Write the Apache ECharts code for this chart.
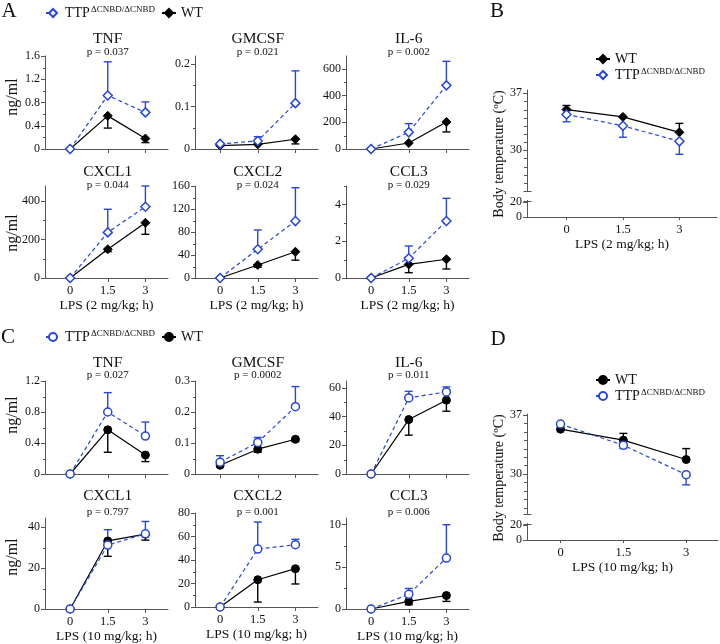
<!DOCTYPE html>
<html><head><meta charset="utf-8">
<script src="https://cdn.jsdelivr.net/npm/echarts@6/dist/echarts.min.js"></script>
<style>html,body{margin:0;padding:0;background:#fff}#c{width:720px;height:644px}</style>
</head><body><div id="c"></div>
<script>
// ---------------- data ----------------
const hours = [0, 1.5, 3];
const hourLabels = ['0', '1.5', '3'];
const cytokineNames = ['TNF', 'GMCSF', 'IL-6', 'CXCL1', 'CXCL2', 'CCL3'];
const pValuesA = ['p = 0.037', 'p = 0.021', 'p = 0.002', 'p = 0.044', 'p = 0.024', 'p = 0.029'];
const pValuesC = ['p = 0.027', 'p = 0.0002', 'p = 0.011', 'p = 0.797', 'p = 0.001', 'p = 0.006'];
const xNameA = 'LPS (2 mg/kg; h)';
const xNameC = 'LPS (10 mg/kg; h)';
const yNameCyto = 'ng/ml';
const panelLetters = ['A', 'B', 'C', 'D'];

// Panel A (2 mg/kg) — value and end of error bar
const aTNF_ttp = [0, 0.92, 0.63],     aTNF_ttpBar = [null, 1.50, 0.81];
const aTNF_wt = [0, 0.57, 0.18],      aTNF_wtBar = [null, 0.36, 0.11];
const aGMCSF_ttp = [0.012, 0.019, 0.108], aGMCSF_ttpBar = [null, 0.029, 0.184];
const aGMCSF_wt = [0.008, 0.011, 0.023],  aGMCSF_wtBar = [null, null, 0.012];
const aIL6_ttp = [0, 125, 477],       aIL6_ttpBar = [null, 190, 657];
const aIL6_wt = [0, 45, 203],         aIL6_wtBar = [null, null, 128];
const aCXCL1_ttp = [0, 237, 370],     aCXCL1_ttpBar = [null, 357, 478];
const aCXCL1_wt = [0, 149, 287],      aCXCL1_wtBar = [null, 137, 227];
const aCXCL2_ttp = [0, 50, 99],       aCXCL2_ttpBar = [null, 83.5, 157];
const aCXCL2_wt = [0, 22.6, 45.7],    aCXCL2_wtBar = [null, 18.6, 31];
const aCCL3_ttp = [0, 1.07, 3.1],     aCCL3_ttpBar = [null, 1.74, 4.33];
const aCCL3_wt = [0, 0.74, 1.02],     aCCL3_wtBar = [null, 0.29, 0.49];
const aYMajor = [[0, 0.4, 0.8, 1.2, 1.6], [0, 0.1, 0.2], [0, 200, 400, 600], [0, 200, 400], [0, 40, 80, 120, 160], [0, 2, 4]];
const aYMinor = [[0.2, 0.6, 1.0, 1.4], [0.05, 0.15], [100, 300, 500], [100, 300], [20, 60, 100, 140], [1, 3, 5]];
const aYMax = [1.6, 0.219, 697, 478, 160, 5];

// Panel B (body temperature, 2 mg/kg)
const bWT = [35.0, 34.1, 32.2],  bWTBar = [35.5, null, 33.3];
const bTTP = [34.4, 33.0, 31.1], bTTPBar = [33.5, 31.6, 29.5];

// Panel C (10 mg/kg)
const cTNF_ttp = [0, 0.80, 0.49],     cTNF_ttpBar = [null, 1.05, 0.67];
const cTNF_wt = [0, 0.57, 0.245],     cTNF_wtBar = [null, 0.28, 0.16];
const cGMCSF_ttp = [0.038, 0.102, 0.217], cGMCSF_ttpBar = [0.059, 0.118, 0.282];
const cGMCSF_wt = [0.028, 0.080, 0.112],  cGMCSF_wtBar = [null, 0.070, 0.105];
const cIL6_ttp = [0, 53.1, 57.3],     cIL6_ttpBar = [null, 57.7, 60.8];
const cIL6_wt = [0, 38.0, 51.5],      cIL6_wtBar = [null, 27.1, 43.8];
const cCXCL1_ttp = [0, 31.2, 36.7],   cCXCL1_ttpBar = [null, 38.7, 42.7];
const cCXCL1_wt = [0, 33.2, 36.5],    cCXCL1_wtBar = [null, 25.7, 33.6];
const cCXCL2_ttp = [0, 49.3, 53.0],   cCXCL2_ttpBar = [null, 72.3, 57.6];
const cCXCL2_wt = [0, 23.2, 32.6],    cCXCL2_wtBar = [null, 4.2, 19.6];
const cCCL3_ttp = [0, 1.74, 6.05],    cCCL3_ttpBar = [null, 2.44, 10.0];
const cCCL3_wt = [0, 0.9, 1.6],       cCCL3_wtBar = [null, 0.5, 0.9];
const cYMajor = [[0, 0.4, 0.8, 1.2], [0, 0.1, 0.2, 0.3], [0, 20, 40, 60], [0, 20, 40], [0, 20, 40, 60, 80], [0, 5, 10]];
const cYMinor = [[0.2, 0.6, 1.0], [0.05, 0.15, 0.25], [10, 30, 50], [10, 30], [10, 30, 50, 70], [2.5, 7.5]];
const cYMax = [1.2, 0.3, 64.9, 44.4, 80, 10.8];

// Panel D (body temperature, 10 mg/kg)
const dWT = [35.3, 34.0, 31.7],  dWTBar = [null, 34.8, 33.0];
const dTTP = [35.9, 33.4, 29.9], dTTPBar = [null, 33.0, 28.7];

const tempUpperLabels = [30, 37];
const tempUpperMinor = [26, 27, 28, 29, 31, 32, 33, 34, 35, 36];
const tempLowerLabels = [0, 20];
const tempName = 'Body temperature';

// ---------------- styling / layout ----------------
const BLUE = '#2747d8';
const AXIS = '#555';
const TXT = '#111';
const FONT = 'Liberation Serif';

const grids = [], xAxes = [], yAxes = [], series = [], graphics = [];

function lineSeries(name, xi, yi, vals, isTTP, symbol) {
  return {
    type: 'line', name: name, xAxisIndex: xi, yAxisIndex: yi,
    data: hours.map((h, i) => [h, vals[i]]),
    symbol: symbol, symbolSize: symbol === 'diamond' ? 9 : 8,
    itemStyle: isTTP ? { color: '#fff', borderColor: BLUE, borderWidth: 1.5 } : { color: '#000', borderColor: '#000', borderWidth: 1 },
    lineStyle: isTTP ? { color: BLUE, width: 1.2, type: [4, 3] } : { color: '#000', width: 1.2 },
    z: isTTP ? 4 : 3, silent: true, animation: false, emphasis: { disabled: true }
  };
}
function barSeries(xi, yi, vals, ends, color) {
  const d = [];
  hours.forEach((h, i) => { if (ends[i] != null) d.push([h, vals[i], ends[i]]); });
  return {
    type: 'custom', xAxisIndex: xi, yAxisIndex: yi, data: d, z: 2, silent: true, animation: false,
    encode: { x: 0, y: [1, 2] },
    renderItem: (params, api) => {
      const p0 = api.coord([api.value(0), api.value(1)]);
      const p1 = api.coord([api.value(0), api.value(2)]);
      const w = 4;
      return { type: 'group', children: [
        { type: 'line', shape: { x1: p0[0], y1: p0[1], x2: p1[0], y2: p1[1] }, style: { stroke: color, lineWidth: 1.4 } },
        { type: 'line', shape: { x1: p1[0] - w, y1: p1[1], x2: p1[0] + w, y2: p1[1] }, style: { stroke: color, lineWidth: 1.4 } }
      ] };
    }
  };
}
// short y-axis ticks (minor ticks, broken-axis caps) placed with the y scale at the grid's left edge
function tickSeries(xi, yi, vals, lenOut, lenIn) {
  return {
    type: 'custom', xAxisIndex: xi, yAxisIndex: yi, data: vals.map(v => [0, v]), z: 1, silent: true, animation: false, clip: false,
    encode: { x: 0, y: 1 },
    renderItem: (params, api) => {
      const y = Math.round(api.coord([0, api.value(1)])[1]) + 0.5;
      const x = Math.round(params.coordSys.x) + 0.5;
      return { type: 'line', shape: { x1: x - lenOut, y1: y, x2: x + lenIn, y2: y }, style: { stroke: AXIS, lineWidth: 1 } };
    }
  };
}
function xAxisCfg(gi, min, max, showLabels, name, showLine) {
  return {
    gridIndex: gi, type: 'value', min: min, max: max, show: showLine !== false,
    axisLine: { show: true, onZero: false, lineStyle: { color: AXIS, width: 1 } },
    axisTick: { show: true, length: 4, customValues: hours, lineStyle: { color: AXIS } },
    axisLabel: { show: showLabels, customValues: hours, formatter: v => hourLabels[hours.indexOf(v)] ?? '', margin: 6, fontFamily: FONT, fontSize: 12.5, color: TXT },
    splitLine: { show: false },
    name: name || '', nameLocation: 'middle', nameGap: 20, nameTextStyle: { fontFamily: FONT, fontSize: 13.5, color: TXT }
  };
}
function yAxisCfg(gi, min, max, majors, tickVals, len) {
  return {
    gridIndex: gi, type: 'value', min: min, max: max, position: 'left',
    axisLine: { show: true, onZero: false, lineStyle: { color: AXIS, width: 1 } },
    axisTick: { show: true, length: len || 4, customValues: tickVals || majors, lineStyle: { color: AXIS } },
    axisLabel: { customValues: majors, margin: 5, fontFamily: FONT, fontSize: 12, color: TXT },
    splitLine: { show: false }
  };
}
function text(x, y, str, size, opts) {
  graphics.push(Object.assign({
    type: 'text', x: x, y: y, silent: true,
    style: { text: str, font: size + 'px "' + FONT + '"', fill: TXT, align: 'center', verticalAlign: 'middle' }
  }, opts || {}));
}

// small cytokine panels
const X_MIN = -1, X_MAX = 3.9, PW = 123;
const colLeft = [45, 195, 346];
function smallPanel(left, top, height, yMax, majors, minors, ttp, ttpBar, wt, wtBar, names, symbol, showX, xName) {
  const gi = grids.length;
  grids.push({ left: left, top: top, width: PW, height: height });
  const xi = xAxes.length; xAxes.push(xAxisCfg(gi, X_MIN, X_MAX, showX, showX ? xName : ''));
  const yi = yAxes.length; yAxes.push(yAxisCfg(gi, 0, yMax, majors));
  series.push(tickSeries(xi, yi, minors, 2.5, 0));
  series.push(barSeries(xi, yi, wt, wtBar, '#000'));
  series.push(barSeries(xi, yi, ttp, ttpBar, BLUE));
  series.push(lineSeries(names[1], xi, yi, wt, false, symbol));
  series.push(lineSeries(names[0], xi, yi, ttp, true, symbol));
}
const aTtp = [aTNF_ttp, aGMCSF_ttp, aIL6_ttp, aCXCL1_ttp, aCXCL2_ttp, aCCL3_ttp];
const aTtpBar = [aTNF_ttpBar, aGMCSF_ttpBar, aIL6_ttpBar, aCXCL1_ttpBar, aCXCL2_ttpBar, aCCL3_ttpBar];
const aWt = [aTNF_wt, aGMCSF_wt, aIL6_wt, aCXCL1_wt, aCXCL2_wt, aCCL3_wt];
const aWtBar = [aTNF_wtBar, aGMCSF_wtBar, aIL6_wtBar, aCXCL1_wtBar, aCXCL2_wtBar, aCCL3_wtBar];
const cTtp = [cTNF_ttp, cGMCSF_ttp, cIL6_ttp, cCXCL1_ttp, cCXCL2_ttp, cCCL3_ttp];
const cTtpBar = [cTNF_ttpBar, cGMCSF_ttpBar, cIL6_ttpBar, cCXCL1_ttpBar, cCXCL2_ttpBar, cCCL3_ttpBar];
const cWt = [cTNF_wt, cGMCSF_wt, cIL6_wt, cCXCL1_wt, cCXCL2_wt, cCCL3_wt];
const cWtBar = [cTNF_wtBar, cGMCSF_wtBar, cIL6_wtBar, cCXCL1_wtBar, cCXCL2_wtBar, cCCL3_wtBar];

const aRows = [{ top: 56, h: 93, t: 38.5, p: 52 }, { top: 186, h: 92, t: 172, p: 185 }];
const cRows = [{ top: 381, h: 93, t: 363, p: 375.5 }, { top: 518, h: 93, t: 496, p: 512.5 }];
const midOff = (1.5 - X_MIN) / (X_MAX - X_MIN) * PW;
for (let k = 0; k < 6; k++) {
  const r = Math.floor(k / 3), c = k % 3;
  const ra = aRows[r];
  smallPanel(colLeft[c], ra.top, ra.h, aYMax[k], aYMajor[k], aYMinor[k], aTtp[k], aTtpBar[k], aWt[k], aWtBar[k], ['TTP_A', 'WT_A'], 'diamond', r === 1, xNameA);
  text(colLeft[c] + midOff, ra.t, cytokineNames[k], 15.5);
  text(colLeft[c] + midOff, ra.p, pValuesA[k], 11);
  const rc = cRows[r];
  let top = rc.top, h = rc.h;
  if (k === 4) { top = 513; h = 94; }
  smallPanel(colLeft[c], top, h, cYMax[k], cYMajor[k], cYMinor[k], cTtp[k], cTtpBar[k], cWt[k], cWtBar[k], ['TTP_C', 'WT_C'], 'circle', r === 1, xNameC);
  text(colLeft[c] + midOff, rc.t, cytokineNames[k], 15.5);
  text(colLeft[c] + midOff, rc.p, pValuesC[k], 11);
}
// y-axis names
[97, 233, 415, 557].forEach(y => text(13, y, yNameCyto, 16, { rotation: Math.PI / 2 }));

// temperature panels (broken y axis: two stacked grids)
function tempPanel(left, width, xMin, xMax, upTop, upH, upMin, upMax, lowTop, lowH, wt, wtBar, ttp, ttpBar, names, symbol, xName) {
  const g1 = grids.length;
  grids.push({ left: left, top: upTop, width: width, height: upH });
  const x1 = xAxes.length; xAxes.push(xAxisCfg(g1, xMin, xMax, false, '', false));
  const y1 = yAxes.length; yAxes.push(yAxisCfg(g1, upMin, upMax, tempUpperLabels, tempUpperLabels, 4));
  series.push(tickSeries(x1, y1, tempUpperMinor, 3.5, 0));
  series.push(tickSeries(x1, y1, [upMin], 4, 4));
  series.push(barSeries(x1, y1, wt, wtBar, '#000'));
  series.push(barSeries(x1, y1, ttp, ttpBar, BLUE));
  series.push(lineSeries(names[0], x1, y1, wt, false, symbol));
  series.push(lineSeries(names[1], x1, y1, ttp, true, symbol));
  const g2 = grids.length;
  grids.push({ left: left, top: lowTop, width: width, height: lowH });
  const xa = xAxisCfg(g2, xMin, xMax, true, xName);
  xa.axisTick.length = 3;
  const x2 = xAxes.length; xAxes.push(xa);
  const y2 = yAxes.length; yAxes.push(yAxisCfg(g2, 0, 22, tempLowerLabels, tempLowerLabels, 4));
  series.push(tickSeries(x2, y2, [22], 4, 4));
}
tempPanel(527, 190, -1.05, 4, 90, 101, 25, 37.4, 200.5, 16.5, bWT, bWTBar, bTTP, bTTPBar, ['WT_B', 'TTP_B'], 'diamond', xNameA);
tempPanel(527, 191, -0.8, 3.76, 414, 99.5, 25.3, 37.1, 523.5, 16.5, dWT, dWTBar, dTTP, dTTPBar, ['WT_D', 'TTP_D'], 'circle', xNameC);

const tempRich = { m: { fontFamily: FONT, fontSize: 14, fill: TXT, lineHeight: 16 }, s: { fontFamily: FONT, fontSize: 9, fill: TXT, verticalAlign: 'top', lineHeight: 9 } };
[154, 478].forEach(y => graphics.push({
  type: 'text', x: 499, y: y, rotation: Math.PI / 2, silent: true,
  style: { text: '{m|' + tempName + ' (}{s|o}{m|C)}', rich: tempRich, align: 'center', verticalAlign: 'middle' }
}));

// panel letters
[[9, 11], [497, 11], [8, 337], [498, 339]].forEach((p, i) => text(p[0], p[1], panelLetters[i], 21));

// legends
const legendText = {
  fontFamily: FONT, fontSize: 14, color: TXT,
  rich: { m: { fontFamily: FONT, fontSize: 14, color: TXT, lineHeight: 16 }, s: { fontFamily: FONT, fontSize: 9, color: TXT, lineHeight: 9, verticalAlign: 'top', padding: [0, 0, 0, 1] } }
};
const legendFmt = n => n.indexOf('TTP') === 0 ? '{m|TTP}{s|ΔCNBD/ΔCNBD}' : '{m|WT}';
function legendCfg(left, top, orient, data) {
  return { left: left, top: top, orient: orient, data: data, selectedMode: false, itemWidth: 14, itemHeight: 10,
    itemGap: orient === 'vertical' ? 1 : 6, padding: 0, textStyle: legendText, formatter: legendFmt };
}

const chart = echarts.init(document.getElementById('c'), null, { renderer: 'canvas' });
chart.setOption({
  animation: false,
  backgroundColor: '#fff',
  grid: grids, xAxis: xAxes, yAxis: yAxes, series: series,
  legend: [
    legendCfg(45, 5, 'horizontal', ['TTP_A', 'WT_A']),
    legendCfg(595, 52, 'vertical', ['WT_B', 'TTP_B']),
    legendCfg(45, 329, 'horizontal', ['TTP_C', 'WT_C']),
    legendCfg(595, 373, 'vertical', ['WT_D', 'TTP_D'])
  ],
  graphic: graphics
});
</script></body></html>
